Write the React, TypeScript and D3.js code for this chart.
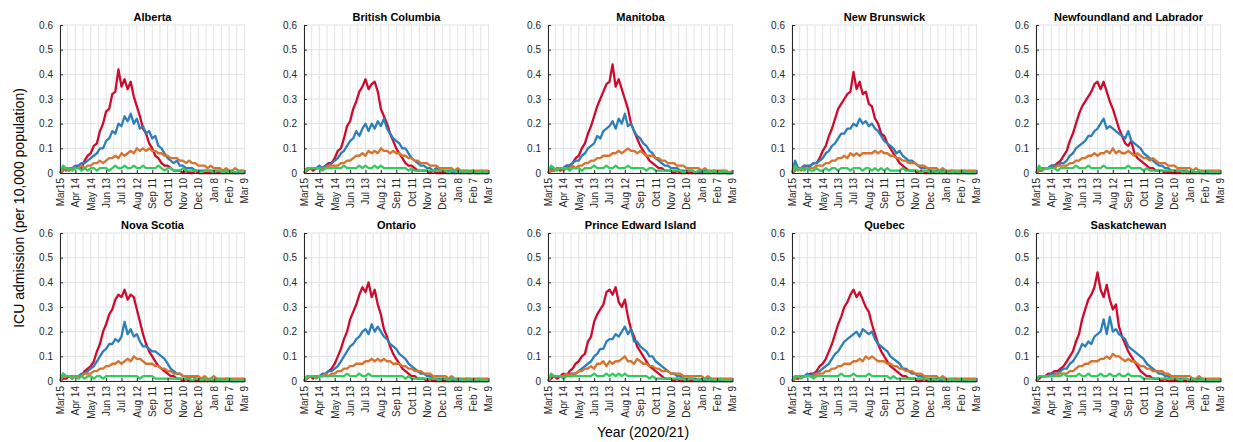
import * as d3 from "d3";
import { useEffect, useRef } from "react";

// panels, left to right then top to bottom
const provinces = [
  "Alberta", "British Columbia", "Manitoba", "New Brunswick", "Newfoundland and Labrador",
  "Nova Scotia", "Ontario", "Prince Edward Island", "Quebec", "Saskatchewan",
];

// one reading every 6 days from Mar 15 2020 (day 0) up to day 360
const sampleDays = d3.range(0, 361, 6);

const xTickDays = [0, 30, 60, 90, 120, 150, 180, 210, 240, 270, 300, 330, 360];
const xTickLabels = ["Mar15", "Apr 14", "May 14", "Jun 13", "Jul 13", "Aug 12", "Sep 11",
  "Oct 11", "Nov 10", "Dec 10", "Jan 8", "Feb 7", "Mar 9"];
const gridDays = d3.range(0, 361, 15);
const yTicks = [0, 0.1, 0.2, 0.3, 0.4, 0.5, 0.6];

const seriesColors = ["#cf0a2c", "#2b7fbb", "#d5732f", "#30cb5e"];

// ICU admissions per 10,000 (61 values each)
const albertaRed = [0,.01,.02,.01,.02,.02,.03,.02,.05,.07, .08,.11,.12,.17,.2,.25,.26,.32,.33,.42, .35,.38,.34,.37,.31,.27,.23,.18,.16,.12, .1,.07,.06,.04,.03,.03,.02,.01,.01,.01, 0,.01,0,0,.01,0,0,0,0,0, 0,0,0,0,0,0,0,0,0,0, 0];
const albertaBlue = [0,.02,.01,.02,.02,.03,.03,.04,.04,.05, .06,.07,.08,.1,.1,.13,.14,.17,.16,.2, .19,.23,.21,.24,.2,.22,.18,.19,.16,.17, .14,.15,.11,.1,.08,.06,.05,.04,.05,.03, .03,.02,.02,.02,.01,.01,.01,.01,.01,.01, .01,.01,.01,0,.01,0,.01,0,0,.01, 0];
const albertaOrange = [0,.01,.02,.01,.02,.02,.02,.03,.02,.03, .03,.04,.04,.05,.04,.05,.06,.06,.07,.06, .08,.07,.08,.09,.08,.1,.09,.1,.09,.1, .09,.09,.08,.08,.07,.07,.06,.06,.06,.05, .05,.04,.05,.04,.04,.03,.03,.03,.02,.03, .02,.02,.02,.01,.02,.01,.01,.02,.01,.01, .01];
const albertaGreen = [0,.03,.02,.02,.01,.02,.02,.01,.02,.01, .02,.02,.01,.02,.02,.02,.01,.02,.03,.02, .02,.03,.02,.02,.03,.02,.02,.03,.02,.02, .02,.02,.03,.02,.01,.02,.02,.01,.01,.01, .02,.01,.01,.01,.01,.01,0,.01,.01,.01, 0,.01,.01,0,.01,0,.01,0,.01,0, .01];

const bcRed = [0,.01,.02,.01,.02,.02,.02,.03,.04,.04, .06,.09,.1,.14,.19,.21,.26,.29,.33,.35, .38,.34,.36,.37,.33,.26,.23,.2,.16,.13, .1,.08,.06,.04,.03,.03,.02,.01,.01,.01, .01,0,.01,0,0,0,0,0,0,0, 0,0,0,0,0,0,0,0,0,0, 0];
const bcBlue = [0,.02,.02,.02,.02,.03,.02,.03,.03,.04, .05,.06,.08,.09,.11,.13,.14,.17,.15,.18, .2,.17,.2,.18,.21,.19,.22,.18,.16,.14, .13,.12,.1,.1,.08,.06,.05,.04,.03,.03, .02,.02,.01,.02,.01,.01,.01,.01,.01,0, .01,0,.01,0,0,.01,0,0,0,0, 0];
const bcOrange = [0,.01,.02,.02,.02,.02,.02,.02,.03,.03, .03,.03,.04,.04,.05,.05,.06,.07,.07,.08, .07,.09,.08,.09,.08,.1,.09,.09,.08,.09, .08,.08,.07,.07,.06,.06,.05,.05,.04,.04, .04,.03,.03,.03,.02,.02,.02,.02,.02,.01, .02,.01,.01,.01,.01,.01,.01,.01,.01,.01, .01];
const bcGreen = [0,.02,.02,.02,.02,.02,.01,.02,.02,.02, .02,.02,.02,.03,.02,.02,.02,.02,.03,.02, .03,.02,.02,.03,.02,.03,.02,.02,.02,.02, .02,.02,.02,.02,.01,.02,.01,.01,.01,.01, .01,.01,.01,.01,.01,.01,.01,0,.01,.01, 0,.01,0,.01,0,.01,0,0,.01,0, 0];

const manitobaRed = [0,.01,.01,.02,.01,.02,.03,.03,.04,.06, .07,.1,.12,.16,.19,.23,.27,.3,.33,.36, .37,.44,.35,.38,.34,.3,.26,.2,.17,.14, .11,.09,.07,.05,.04,.03,.02,.02,.01,.01, .01,0,.01,0,0,0,0,0,0,0, 0,0,0,0,0,0,0,0,0,0, 0];
const manitobaBlue = [0,.02,.01,.02,.02,.02,.03,.03,.04,.05, .05,.07,.08,.1,.11,.12,.15,.14,.17,.18, .19,.21,.18,.22,.2,.24,.19,.2,.17,.15, .14,.12,.11,.09,.08,.06,.05,.04,.03,.03, .02,.02,.02,.01,.01,.01,.01,.01,0,.01, 0,.01,0,0,.01,0,0,0,0,0, 0];
const manitobaOrange = [0,.01,.01,.02,.02,.01,.02,.02,.03,.02, .03,.03,.04,.04,.05,.05,.06,.06,.07,.07, .07,.08,.08,.09,.08,.09,.1,.09,.09,.08, .09,.08,.07,.07,.07,.06,.06,.05,.05,.04, .04,.04,.03,.03,.03,.02,.02,.02,.02,.02, .01,.02,.01,.01,.01,.01,.01,.01,.01,0, .01];
const manitobaGreen = [0,.03,.02,.01,.02,.02,.02,.01,.02,.02, .02,.01,.02,.02,.02,.03,.02,.02,.02,.03, .02,.02,.03,.02,.02,.02,.03,.02,.02,.02, .02,.02,.01,.02,.02,.01,.01,.01,.01,.01, .01,.01,.01,.01,0,.01,.01,.01,0,.01, .01,0,.01,0,.01,0,0,.01,0,0, 0];

const nbRed = [0,.01,.02,.02,.03,.02,.03,.04,.04,.06, .09,.11,.15,.18,.22,.26,.28,.3,.32,.33, .41,.34,.37,.32,.33,.28,.27,.22,.2,.16, .15,.12,.1,.08,.06,.04,.03,.02,.01,.01, .01,0,.01,0,0,0,0,0,0,0, 0,0,0,0,0,0,0,0,0,0, 0];
const nbBlue = [0,.05,.02,.02,.03,.03,.03,.04,.04,.05, .06,.08,.09,.11,.12,.14,.16,.16,.18,.18, .2,.19,.22,.2,.21,.19,.2,.18,.17,.15, .13,.12,.11,.1,.08,.09,.07,.06,.05,.05, .04,.03,.02,.02,.02,.01,.01,.01,.01,.01, .01,0,.01,0,0,.01,0,0,0,0, 0];
const nbOrange = [0,.01,.02,.01,.02,.02,.02,.02,.03,.03, .03,.04,.04,.05,.05,.06,.06,.07,.06,.08, .07,.08,.07,.08,.08,.08,.08,.09,.08,.09, .08,.08,.07,.07,.06,.06,.05,.05,.04,.04, .04,.03,.03,.03,.02,.02,.02,.02,.01,.02, .01,.01,.01,.01,.01,.01,.01,.01,.01,.01, .01];
const nbGreen = [0,.03,.01,.02,.01,.02,.01,.01,.02,.01, .01,.02,.01,.02,.02,.01,.02,.02,.02,.01, .02,.02,.02,.01,.02,.02,.01,.02,.01,.02, .01,.02,.01,.01,.01,.01,.02,.01,.01,.01, .01,.01,0,.01,.01,0,.01,0,.01,0, .01,0,0,.01,0,0,.01,0,0,0, 0];

const nlRed = [0,.01,.01,.02,.02,.03,.03,.04,.05,.07, .09,.13,.16,.2,.24,.27,.29,.31,.33,.36, .37,.34,.37,.33,.29,.26,.22,.18,.15,.12, .11,.13,.08,.06,.05,.04,.03,.02,.02,.01, .01,.01,0,.01,0,0,0,0,0,0, 0,0,0,0,0,0,0,0,0,0, 0];
const nlBlue = [0,.02,.02,.02,.02,.03,.03,.03,.04,.04, .05,.07,.08,.1,.11,.12,.13,.15,.15,.17, .18,.2,.22,.18,.19,.18,.17,.16,.15,.14, .17,.13,.12,.11,.1,.08,.07,.06,.05,.04, .03,.03,.02,.02,.01,.01,.01,.01,.01,.01, 0,.01,0,.01,0,0,0,0,0,0, 0];
const nlOrange = [0,.01,.02,.02,.02,.02,.02,.03,.03,.03, .03,.04,.04,.05,.05,.06,.06,.07,.07,.08, .07,.08,.08,.09,.08,.1,.08,.09,.08,.08, .09,.08,.07,.08,.07,.06,.06,.05,.06,.05, .04,.04,.04,.03,.03,.03,.02,.02,.02,.02, .02,.01,.02,.01,.01,.01,.01,.01,.01,.01, .01];
const nlGreen = [0,.03,.01,.02,.02,.02,.02,.01,.02,.02, .02,.02,.02,.03,.02,.02,.02,.03,.02,.02, .02,.02,.03,.02,.02,.02,.02,.02,.02,.02, .03,.02,.02,.02,.02,.01,.02,.01,.01,.01, .01,.01,.01,.01,.01,.01,.01,.01,0,.01, 0,.01,0,.01,0,0,.01,0,0,0, 0];

const nsRed = [0,.01,.01,.02,.01,.02,.02,.02,.04,.05, .06,.08,.12,.15,.2,.23,.27,.29,.33,.35, .34,.37,.33,.35,.34,.29,.24,.19,.15,.12, .1,.08,.06,.05,.04,.03,.02,.02,.01,.01, 0,.01,0,0,0,0,0,0,0,0, 0,0,0,0,0,0,0,0,0,0, 0];
const nsBlue = [0,.03,.02,.02,.02,.02,.02,.03,.03,.04, .05,.06,.08,.1,.12,.13,.15,.15,.17,.16, .18,.24,.19,.21,.18,.19,.16,.14,.14,.13, .12,.12,.11,.1,.09,.07,.05,.04,.03,.03, .02,.02,.01,.02,.01,.01,.01,.01,0,.01, 0,.01,0,0,.01,0,0,0,0,0, 0];
const nsOrange = [0,.02,.02,.02,.02,.02,.02,.02,.03,.03, .03,.04,.04,.05,.05,.06,.06,.07,.07,.08, .07,.08,.09,.08,.1,.09,.09,.08,.07,.07, .07,.06,.06,.05,.05,.04,.04,.03,.03,.03, .02,.02,.02,.02,.02,.02,.01,.02,.01,.01, .02,.01,.01,.01,.01,.01,.01,.01,.01,.01, .01];
const nsGreen = [0,.03,.02,.02,.01,.02,.01,.02,.01,.02, .02,.01,.02,.02,.01,.02,.02,.02,.02,.02, .02,.02,.02,.02,.02,.02,.01,.02,.02,.02, .02,.01,.01,.01,.01,.01,.01,.01,.01,.01, .01,.01,.01,0,.01,.01,0,.01,0,.01, 0,0,.01,0,0,.01,0,0,0,0, 0];

const ontarioRed = [0,.01,.02,.01,.02,.02,.02,.03,.04,.05, .07,.1,.13,.17,.2,.25,.28,.31,.35,.38, .36,.4,.34,.37,.31,.27,.21,.18,.14,.11, .09,.07,.05,.04,.03,.02,.02,.01,.01,.01, 0,.01,0,0,0,0,0,0,0,0, 0,0,0,0,0,0,0,0,0,0, 0];
const ontarioBlue = [0,.02,.02,.02,.02,.02,.03,.03,.04,.04, .05,.06,.08,.1,.12,.14,.15,.17,.18,.2, .21,.19,.23,.2,.22,.2,.18,.17,.15,.14, .13,.11,.1,.09,.07,.06,.05,.04,.03,.03, .02,.02,.01,.01,.01,.01,.01,0,.01,0, .01,0,0,.01,0,0,0,0,0,0, 0];
const ontarioOrange = [0,.01,.02,.02,.02,.02,.02,.03,.02,.03, .03,.04,.04,.05,.05,.06,.06,.07,.07,.07, .08,.08,.09,.08,.09,.08,.09,.08,.08,.07, .07,.07,.06,.06,.05,.05,.04,.04,.04,.03, .03,.03,.02,.02,.02,.02,.02,.01,.02,.01, .01,.01,.01,.01,.01,.01,.01,.01,.01,.01, .01];
const ontarioGreen = [0,.02,.02,.02,.01,.02,.02,.02,.02,.02, .02,.02,.02,.02,.03,.02,.02,.02,.03,.02, .02,.03,.02,.02,.02,.02,.02,.02,.02,.02, .02,.02,.02,.01,.02,.01,.01,.01,.01,.01, .01,.01,.01,.01,0,.01,.01,0,.01,.01, 0,.01,0,0,.01,0,0,.01,0,0, 0];

const peiRed = [0,.01,.02,.01,.02,.03,.02,.04,.05,.07, .08,.1,.11,.16,.18,.24,.27,.29,.31,.36, .37,.35,.38,.32,.3,.33,.26,.21,.18,.14, .12,.1,.08,.06,.05,.04,.03,.02,.01,.01, .01,0,.01,0,0,0,0,0,0,0, 0,0,0,0,0,0,0,0,0,0, 0];
const peiBlue = [0,.02,.02,.02,.02,.02,.02,.03,.03,.03, .04,.05,.06,.07,.08,.1,.11,.13,.13,.16, .17,.17,.19,.18,.2,.22,.19,.21,.16,.16, .14,.13,.12,.1,.1,.08,.07,.06,.05,.04, .03,.03,.02,.02,.01,.01,.01,.01,.01,0, .01,0,.01,0,0,0,0,0,0,0, 0];
const peiOrange = [0,.02,.02,.02,.02,.02,.03,.02,.03,.03, .04,.04,.05,.05,.06,.05,.07,.07,.08,.06, .08,.07,.08,.08,.09,.1,.08,.08,.07,.09, .08,.07,.07,.06,.06,.05,.05,.04,.04,.04, .03,.03,.03,.03,.02,.02,.02,.02,.02,.02, .02,.01,.02,.01,.01,.01,.01,.01,.01,.01, .01];
const peiGreen = [0,.03,.02,.02,.02,.01,.02,.02,.02,.02, .02,.02,.02,.02,.02,.03,.02,.02,.02,.03, .02,.03,.02,.03,.02,.03,.02,.02,.02,.02, .02,.02,.02,.01,.02,.01,.01,.01,.01,.01, .01,.01,.01,.01,.01,0,.01,.01,0,.01, 0,.01,0,.01,0,0,.01,0,0,0, 0];

const quebecRed = [0,.01,.01,.02,.02,.02,.03,.03,.04,.06, .07,.09,.12,.15,.19,.23,.26,.3,.32,.35, .37,.34,.36,.33,.3,.28,.23,.19,.15,.12, .1,.08,.06,.05,.04,.03,.02,.02,.01,.01, .01,0,0,.01,0,0,0,0,0,0, 0,0,0,0,0,0,0,0,0,0, 0];
const quebecBlue = [0,.02,.02,.02,.02,.03,.02,.03,.03,.04, .05,.06,.07,.09,.11,.12,.14,.16,.17,.18, .19,.2,.18,.21,.2,.19,.2,.17,.15,.14, .13,.12,.1,.09,.08,.07,.05,.05,.04,.03, .03,.02,.02,.01,.01,.01,.01,.01,.01,0, .01,0,0,.01,0,0,0,0,0,0, 0];
const quebecOrange = [0,.01,.02,.02,.02,.02,.02,.02,.03,.03, .03,.04,.04,.05,.05,.06,.06,.07,.07,.07, .08,.08,.09,.08,.1,.09,.1,.09,.08,.08, .08,.07,.07,.06,.06,.05,.05,.04,.04,.04, .03,.03,.03,.02,.02,.02,.02,.02,.01,.02, .01,.01,.01,.01,.01,.01,.01,.01,.01,.01, .01];
const quebecGreen = [0,.02,.02,.01,.02,.02,.02,.01,.02,.02, .02,.02,.02,.02,.02,.02,.03,.02,.02,.02, .03,.02,.02,.02,.02,.03,.02,.02,.02,.02, .02,.02,.01,.02,.01,.01,.01,.01,.01,.01, .01,.01,.01,.01,.01,0,.01,0,.01,.01, 0,0,.01,0,0,.01,0,0,0,0, 0];

const saskRed = [0,.01,.02,.02,.03,.03,.04,.04,.05,.06, .08,.1,.12,.16,.19,.25,.29,.33,.35,.38, .44,.37,.34,.39,.33,.29,.31,.22,.18,.15, .12,.1,.08,.06,.04,.03,.02,.02,.01,.01, .01,0,.01,0,0,0,0,0,0,0, 0,0,0,0,0,0,0,0,0,0, 0];
const saskBlue = [0,.02,.02,.02,.02,.03,.03,.03,.04,.05, .05,.07,.08,.1,.12,.15,.14,.16,.15,.18, .19,.2,.25,.19,.26,.2,.21,.19,.18,.17, .14,.13,.12,.11,.1,.09,.07,.06,.05,.04, .03,.03,.02,.02,.01,.01,.01,.01,.01,.01, 0,.01,0,.01,0,0,0,0,0,0, 0];
const saskOrange = [0,.02,.02,.02,.02,.02,.02,.03,.03,.03, .03,.04,.04,.05,.06,.06,.07,.07,.08,.08, .08,.09,.09,.1,.09,.11,.1,.1,.09,.08, .09,.08,.08,.07,.06,.06,.05,.05,.04,.04, .04,.04,.03,.03,.02,.02,.02,.02,.02,.02, .02,.01,.01,.02,.01,.01,.01,.01,.01,.01, .01];
const saskGreen = [0,.02,.02,.02,.02,.02,.02,.02,.02,.03, .02,.02,.02,.02,.03,.02,.02,.03,.02,.02, .02,.03,.02,.02,.03,.02,.02,.03,.02,.02, .03,.02,.02,.02,.02,.01,.01,.01,.01,.01, .01,.01,.01,.01,.01,.01,.01,0,.01,.01, 0,.01,0,0,.01,0,0,0,0,0, 0];

const panelSeries = [
  [albertaRed, albertaBlue, albertaOrange, albertaGreen],
  [bcRed, bcBlue, bcOrange, bcGreen],
  [manitobaRed, manitobaBlue, manitobaOrange, manitobaGreen],
  [nbRed, nbBlue, nbOrange, nbGreen],
  [nlRed, nlBlue, nlOrange, nlGreen],
  [nsRed, nsBlue, nsOrange, nsGreen],
  [ontarioRed, ontarioBlue, ontarioOrange, ontarioGreen],
  [peiRed, peiBlue, peiOrange, peiGreen],
  [quebecRed, quebecBlue, quebecOrange, quebecGreen],
  [saskRed, saskBlue, saskOrange, saskGreen],
];

const FONT = "'Liberation Sans', Arial, Helvetica, sans-serif";
const INK = "#262626";

const App = () => {
  const svgRef = useRef<SVGSVGElement>(null);

  useEffect(() => {
    const svg = d3.select(svgRef.current);
    svg.selectAll("*").remove();

    const pw = 185;
    const ph = 148;

    provinces.forEach((name, k) => {
      const col = k % 5;
      const row = Math.floor(k / 5);
      const left = 60 + col * 244;
      const top = row === 0 ? 25 : 233;

      const x = d3.scaleLinear().domain([0, 361]).range([left, left + pw]);
      const y = d3.scaleLinear().domain([0, 0.6]).range([top + ph, top]);

      const g = svg.append("g");

      // grid
      g.selectAll(".vgrid").data(gridDays).join("line")
        .attr("class", "vgrid")
        .attr("x1", d => x(d)).attr("x2", d => x(d))
        .attr("y1", top).attr("y2", top + ph)
        .attr("stroke", "#e3e3e3");
      g.selectAll(".hgrid").data(yTicks).join("line")
        .attr("class", "hgrid")
        .attr("x1", left).attr("x2", left + pw)
        .attr("y1", d => y(d)).attr("y2", d => y(d))
        .attr("stroke", "#e3e3e3");

      // series
      const line = d3.line<number>()
        .x((_, i) => x(sampleDays[i]))
        .y(d => y(d));
      panelSeries[k].forEach((vals, s) => {
        g.append("path")
          .datum(vals)
          .attr("d", line)
          .attr("fill", "none")
          .attr("stroke", seriesColors[s])
          .attr("stroke-width", 2.3)
          .attr("stroke-linejoin", "round");
      });

      // axes
      const xAxis = d3.axisBottom(x)
        .tickValues(xTickDays)
        .tickFormat((_, i) => xTickLabels[i])
        .tickSizeInner(-3)
        .tickSizeOuter(0);
      const gx = g.append("g")
        .attr("transform", `translate(0,${top + ph})`)
        .call(xAxis)
        .attr("font-family", FONT)
        .attr("font-size", 10)
        .style("color", INK);
      gx.selectAll("text")
        .attr("transform", "rotate(-90)")
        .attr("text-anchor", "end")
        .attr("x", -5)
        .attr("y", 0)
        .attr("dy", "0.35em");

      const yAxis = d3.axisLeft(y)
        .tickValues(yTicks)
        .tickFormat(d => (+d === 0 ? "0" : d3.format(".1f")(+d)))
        .tickSizeInner(-3)
        .tickSizeOuter(0)
        .tickPadding(7);
      g.append("g")
        .attr("transform", `translate(${left},0)`)
        .call(yAxis)
        .attr("font-family", FONT)
        .attr("font-size", 10)
        .style("color", INK);

      g.append("text")
        .attr("x", left + pw / 2)
        .attr("y", top - 4)
        .attr("text-anchor", "middle")
        .attr("font-family", FONT)
        .attr("font-size", 11)
        .attr("font-weight", "bold")
        .attr("fill", "#000")
        .text(name);
    });

    svg.append("text")
      .attr("transform", "translate(24,208) rotate(-90)")
      .attr("text-anchor", "middle")
      .attr("font-family", FONT)
      .attr("font-size", 14)
      .attr("fill", "#000")
      .text("ICU admission (per 10,000 population)");

    svg.append("text")
      .attr("x", 643)
      .attr("y", 437)
      .attr("text-anchor", "middle")
      .attr("font-family", FONT)
      .attr("font-size", 14)
      .attr("fill", "#000")
      .text("Year (2020/21)");
  }, []);

  return (
    <div style={{ position: "absolute", left: 0, top: 0 }}>
      <svg ref={svgRef} width={1233} height={442} style={{ display: "block", background: "#fff" }} />
    </div>
  );
};

export default App;
